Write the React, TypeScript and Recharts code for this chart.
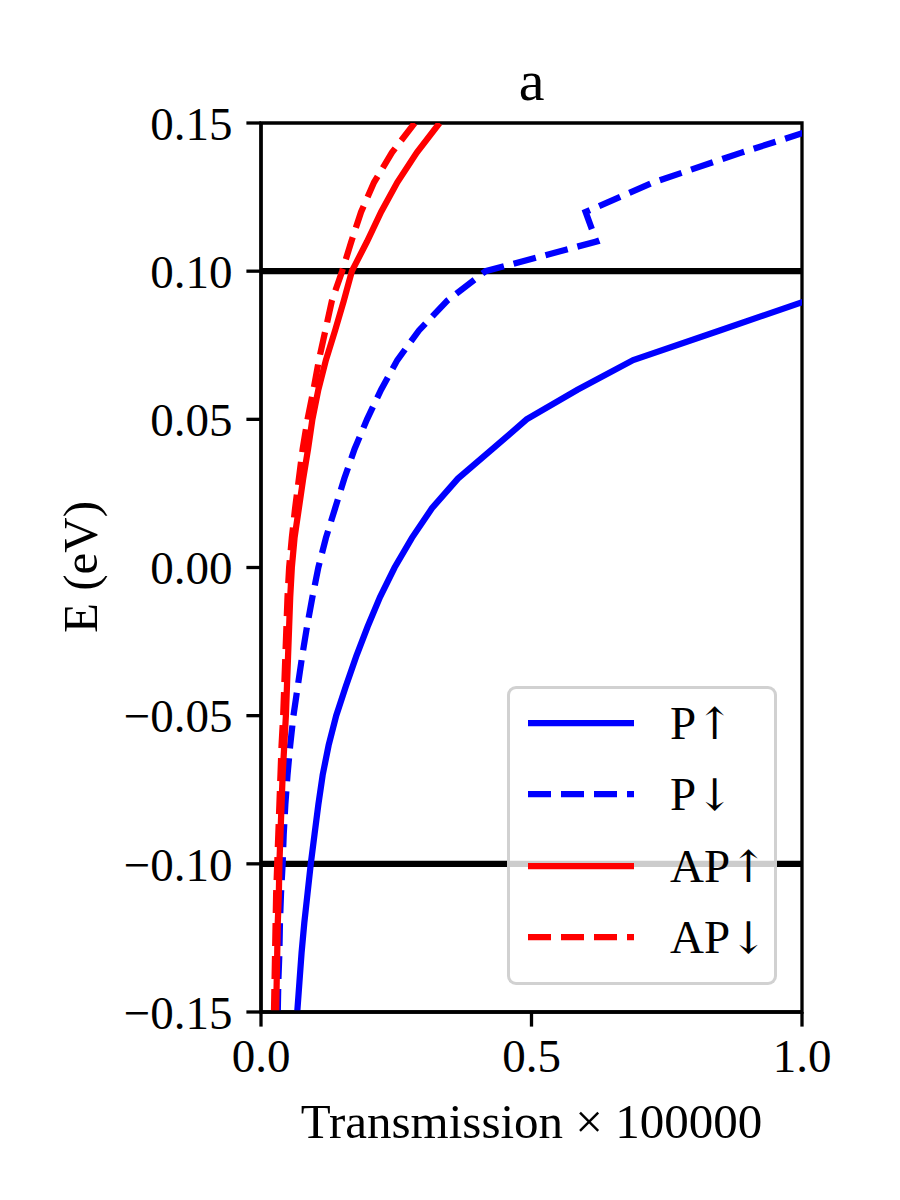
import React from 'react';
import { LineChart, Line, XAxis, YAxis, ReferenceLine, ReferenceArea } from 'recharts';

// energy grid (eV), bottom to top
const energy = [
  -0.15, -0.14, -0.13, -0.12, -0.11, -0.1, -0.09, -0.08, -0.07, -0.06, -0.05,
  -0.04, -0.03, -0.02, -0.01, 0.0, 0.01, 0.02, 0.03, 0.04, 0.05,
  0.06, 0.07, 0.08, 0.09, 0.1, 0.11, 0.12, 0.13, 0.14, 0.15,
];

// transmission x 100000 for each spin channel
const pUp = [
  0.067, 0.071, 0.075, 0.08, 0.086, 0.092, 0.099, 0.106, 0.114, 0.125, 0.139,
  0.157, 0.176, 0.197, 0.22, 0.247, 0.279, 0.316, 0.364, 0.428, 0.491,
  0.585, 0.688, 0.848, 1.008, null, null, null, null, null, null,
];
const pDown = [
  0.031, 0.032, 0.034, 0.035, 0.037, 0.04, 0.042, 0.045, 0.049, 0.054, 0.06,
  0.068, 0.076, 0.085, 0.095, 0.106, 0.12, 0.137, 0.154, 0.173, 0.196,
  0.222, 0.252, 0.292, 0.344, 0.415, 0.62, 0.6, 0.726, 0.888, 1.06,
];
const apUp = [
  0.028, 0.029, 0.03, 0.031, 0.033, 0.034, 0.036, 0.038, 0.04, 0.043, 0.046,
  0.048, 0.05, 0.052, 0.054, 0.057, 0.062, 0.07, 0.078, 0.087, 0.095,
  0.106, 0.12, 0.137, 0.153, 0.168, 0.196, 0.222, 0.252, 0.288, 0.33,
];
const apDown = [
  0.024, 0.025, 0.026, 0.027, 0.028, 0.03, 0.032, 0.034, 0.036, 0.038, 0.041,
  0.043, 0.045, 0.047, 0.049, 0.052, 0.057, 0.063, 0.07, 0.077, 0.086,
  0.097, 0.107, 0.119, 0.131, 0.15, 0.167, 0.185, 0.209, 0.242, 0.284,
];

const yTicks = [-0.15, -0.1, -0.05, 0, 0.05, 0.1, 0.15];
const xTicks = [0, 0.5, 1.0];
const guideLevels = [0.1, -0.1];

const seriesKeys = ['pUp', 'pDown', 'apUp', 'apDown'];
const seriesNames = ['P\u2191', 'P\u2193', 'AP\u2191', 'AP\u2193'];
const seriesColors = ['#0000ff', '#0000ff', '#ff0000', '#ff0000'];
const seriesDashed = [false, true, false, true];

const rows = energy.map((E, i) => ({
  E,
  pUp: pUp[i],
  pDown: pDown[i],
  apUp: apUp[i],
  apDown: apDown[i],
}));

const FONT = '"Liberation Serif", "Times New Roman", serif';
const LW = 6.25;
const DASH = '23 10';
const SPINE = 3.3;

const fmtY = (v: number) => {
  const s = Math.abs(v).toFixed(2);
  return v < -1e-9 ? '\u2212' + s : s;
};
const fmtX = (v: number) => v.toFixed(1);

const tickStyle = { fill: '#000', fontSize: 47, fontFamily: FONT };

// split "P↑" into letters + arrow so the arrow can use a taller glyph
const renderName = (name: string) => {
  const arrow = name.slice(-1);
  return (
    <>
      {name.slice(0, -1)}
      <span style={{ fontFamily: '"DejaVu Serif", serif', fontSize: 44 }}>{arrow}</span>
    </>
  );
};

const LegendBox = () => (
  <div
    style={{
      position: 'absolute',
      left: 507,
      top: 686,
      width: 270,
      height: 299,
      boxSizing: 'border-box',
      border: '3px solid rgba(204,204,204,0.9)',
      borderRadius: 9,
      background: 'rgba(255,255,255,0.8)',
      fontFamily: FONT,
      fontSize: 47,
      color: '#000',
    }}
  >
    {seriesNames.map((name, i) => {
      const cy = 37 + i * 71.3;
      return (
        <React.Fragment key={name}>
          <svg
            width={110}
            height={20}
            style={{ position: 'absolute', left: 15, top: cy - 10 - 3 }}
          >
            <line
              x1={3}
              x2={109}
              y1={10}
              y2={10}
              stroke={seriesColors[i]}
              strokeWidth={LW}
              strokeDasharray={seriesDashed[i] ? DASH : undefined}
            />
          </svg>
          <div
            style={{
              position: 'absolute',
              left: 160,
              top: cy - 30 - 3,
              lineHeight: '60px',
              height: 60,
              whiteSpace: 'nowrap',
            }}
          >
            {renderName(name)}
          </div>
        </React.Fragment>
      );
    })}
  </div>
);

export default function App() {
  return (
    <div style={{ position: 'absolute', left: 0, top: 0, width: 900, height: 1200, background: '#fff' }}>
      <LineChart
        layout="vertical"
        width={900}
        height={1200}
        data={rows}
        margin={{ top: 123, right: 98, bottom: 0, left: 0 }}
      >
        <XAxis
          type="number"
          domain={[0, 1]}
          ticks={xTicks}
          tickFormatter={fmtX}
          allowDataOverflow
          height={188}
          tick={tickStyle}
          tickSize={14.6}
          tickMargin={12}
          tickLine={{ stroke: '#000', strokeWidth: SPINE }}
          axisLine={{ stroke: '#000', strokeWidth: SPINE }}
        />
        <YAxis
          type="number"
          dataKey="E"
          domain={[-0.15, 0.15]}
          ticks={yTicks}
          tickFormatter={fmtY}
          allowDataOverflow
          reversed
          width={261}
          tick={tickStyle}
          tickSize={14.6}
          tickMargin={14}
          tickLine={{ stroke: '#000', strokeWidth: SPINE }}
          axisLine={{ stroke: '#000', strokeWidth: SPINE }}
        />
        {guideLevels.map((lv) => (
          <ReferenceLine key={lv} y={lv} stroke="#000" strokeWidth={LW} />
        ))}
        {seriesKeys.map((k, i) => (
          <Line
            key={k}
            dataKey={k}
            name={seriesNames[i]}
            type="linear"
            stroke={seriesColors[i]}
            strokeWidth={LW}
            strokeDasharray={seriesDashed[i] ? DASH : undefined}
            dot={false}
            activeDot={false}
            connectNulls={false}
            isAnimationActive={false}
          />
        ))}
        <ReferenceArea
          x1={0}
          x2={1}
          y1={-0.15}
          y2={0.15}
          fill="none"
          fillOpacity={0}
          stroke="#000"
          strokeWidth={SPINE}
        />
      </LineChart>
      <svg
        width={900}
        height={1200}
        style={{ position: 'absolute', left: 0, top: 0, pointerEvents: 'none' }}
      >
        <text x={531.5} y={100} textAnchor="middle" fontFamily={FONT} fontSize={58} fill="#000">
          a
        </text>
        <text x={531.5} y={1138} textAnchor="middle" fontFamily={FONT} fontSize={49} fill="#000">
          Transmission × 100000
        </text>
        <text
          x={97}
          y={567}
          textAnchor="middle"
          fontFamily={FONT}
          fontSize={49}
          fill="#000"
          transform="rotate(-90, 97, 567)"
        >
          E (eV)
        </text>
      </svg>
      <LegendBox />
    </div>
  );
}
